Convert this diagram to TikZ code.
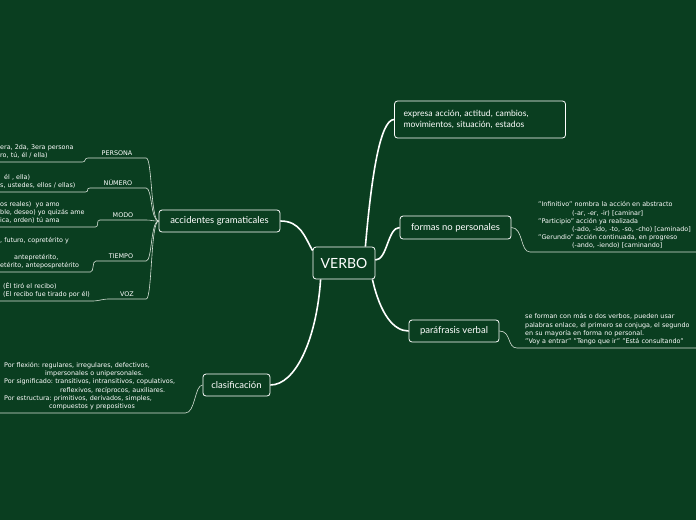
\documentclass[tikz,border=0pt]{standalone}
\usepackage{fontspec}
\setmainfont{DejaVu Sans}
\newfontfamily\handfont{Lato}
\usetikzlibrary{calc}
\definecolor{moss}{RGB}{10,62,32}
\definecolor{twiggray}{RGB}{214,224,214}
\frenchspacing

\begin{document}
\begin{tikzpicture}[x=1pt,y=-1pt,
    topicbox/.style={draw=white,line width=0.8pt,rounded corners=3pt,fill=moss,text=white,inner sep=0pt,align=center,
      font=\handfont\fontsize{9.5}{11}\selectfont},
    tagbox/.style={text=white,font=\fontsize{6.4}{7.5}\selectfont,inner xsep=0pt,inner ysep=2pt,anchor=south},
    notebox/.style={text=white,font=\fontsize{6.4}{8.2}\selectfont,inner xsep=0pt,inner ysep=3pt,align=left,anchor=south west},
    trunk/.style={white,line width=1.6pt},
    twig/.style={twiggray,line width=0.6pt}
  ]
  \fill[moss] (0,0) rectangle (696,520);
  \clip (0,0) rectangle (696,520);

  % main topics
  \node[topicbox,minimum width=62pt,minimum height=32pt,font=\handfont\fontsize{14}{16}\selectfont] (verbo) at (344,263) {VERBO};
  \node[topicbox,minimum height=37pt,inner xsep=9pt,text width=153pt,align=left,font=\handfont\fontsize{8.6}{11}\selectfont] (expresa) at (480,119.5) {expresa acción, actitud, cambios,\\movimientos, situación, estados};
  \node[topicbox,minimum width=111pt,minimum height=23pt] (formas) at (455.5,227.5) {formas no personales};
  \node[topicbox,minimum width=90pt,minimum height=22pt] (parafrasis) at (454,331) {paráfrasis verbal};
  \node[topicbox,minimum width=121pt,minimum height=22pt] (accidentes) at (219.5,221) {accidentes gramaticales};
  \node[topicbox,minimum width=67pt,minimum height=22pt] (clasif) at (236.5,385) {clasificación};

  \draw[trunk] ([xshift=-10pt]verbo.north east) .. controls +(6,-70) and +(-14,0) .. (expresa.west);
  \draw[trunk] ([yshift=3pt]verbo.east) .. controls +(12,0) and +(-12,0) .. (formas.west);
  \draw[trunk] ([xshift=-3pt]verbo.south east) .. controls +(8,35) and +(-15,0) .. (parafrasis.west);
  \draw[trunk] (accidentes.east) .. controls +(20,0) and +(-8,-14) .. ([yshift=-4pt]verbo.north west);
  \draw[trunk] ([xshift=8pt]verbo.south west) .. controls +(-4,60) and +(25,0) .. (clasif.east);

  % accidentes gramaticales
  \node[tagbox,minimum width=58pt] (persona) at (117,158) {PERSONA};
  \node[tagbox,minimum width=56pt] (numero) at (118,188) {NÚMERO};
  \node[tagbox,minimum width=46pt] (modo) at (123,220) {MODO};
  \node[tagbox,minimum width=50pt] (tiempo) at (121,261) {TIEMPO};
  \node[tagbox,minimum width=38pt] (voz) at (127,299) {VOZ};

  \node[notebox,text width=82pt] (persona-txt) at (0,162) {era, 2da, 3era persona\\ro, tú, él / ella)};
  \node[notebox,text width=85pt] (numero-txt) at (0,192) {\hspace*{4pt}él , ella)\\s, ustedes, ellos / ellas)};
  \node[notebox,text width=95pt] (modo-txt) at (0,227) {os reales)\ \ yo amo\\ble, deseo) yo quizás ame\\ica, orden) tú ama};
  \node[notebox,text width=90pt] (tiempo-txt) at (0,272) {, futuro, copretérito y\\\mbox{}\\\hspace*{14pt}antepretérito,\\etérito, antepospretérito};
  \node[notebox,text width=93pt] (voz-txt) at (0,301) {\hspace*{3pt}(Él tiró el recibo)\\\hspace*{3pt}(El recibo fue tirado por él)};

  \foreach \t in {persona,numero,modo,tiempo,voz} {
    \draw[twig] (\t.south west) -- (\t.south east) .. controls +(6,0) and +(-8,0) .. (accidentes.west);
    \draw[twig] (\t-txt.south west) -- (\t-txt.south east) .. controls +(4,0) and +(-4,0) .. (\t.south west);
  }

  % clasificacion
  \node[notebox,text width=185pt] (clasif-txt) at (0,413) {\hspace*{4pt}Por flexión: regulares, irregulares, defectivos,\\\hspace*{45pt}impersonales o unipersonales.\\\hspace*{4pt}Por significado: transitivos, intransitivos, copulativos,\\\hspace*{60pt}reflexivos, recíprocos, auxiliares.\\\hspace*{4pt}Por estructura: primitivos, derivados, simples,\\\hspace*{49pt}compuestos y prepositivos};
  \draw[twig] (clasif-txt.south west) -- (clasif-txt.south east) .. controls +(10,0) and +(-8,0) .. (clasif.west);

  % formas no personales
  \node[notebox,text width=200pt] (formas-txt) at (530,252) {\hspace*{8pt}"Infinitivo" nombra la acción en abstracto\\\hspace*{42pt}(-ar, -er, -ir) [caminar]\\\hspace*{8pt}"Participio" acción ya realizada\\\hspace*{42pt}(-ado, -ido, -to, -so, -cho) [caminado]\\\hspace*{8pt}"Gerundio" acción continuada, en progreso\\\hspace*{42pt}(-ando, -iendo) [caminando]};
  \draw[twig] (formas.east) .. controls +(12,0) and +(-10,0) .. (formas-txt.south west) -- (formas-txt.south east);

  % parafrasis verbal
  \node[notebox,text width=200pt] (parafrasis-txt) at (517,348) {\hspace*{8pt}se forman con más o dos verbos, pueden usar\\\hspace*{8pt}palabras enlace, el primero se conjuga, el segundo\\\hspace*{8pt}en su mayoría en forma no personal.\\\hspace*{8pt}"Voy a entrar" "Tengo que ir" "Está consultando"};
  \draw[twig] (parafrasis.east) .. controls +(12,0) and +(-10,0) .. (parafrasis-txt.south west) -- (parafrasis-txt.south east);
\end{tikzpicture}
\end{document}
